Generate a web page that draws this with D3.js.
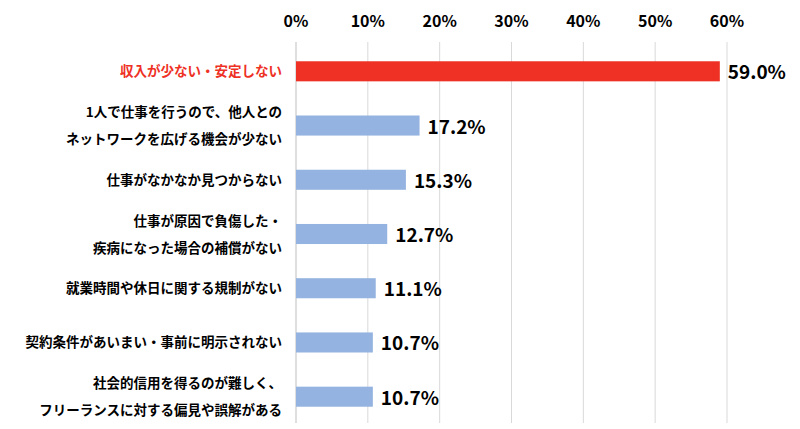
<!DOCTYPE html>
<html><head><meta charset="utf-8">
<script src="https://cdn.jsdelivr.net/npm/d3@7"></script>
<style>body{margin:0;background:#fff}</style>
</head><body><svg id="c" width="800" height="429"></svg>
<script>
const categories = [
  ["収入が少ない・安定しない"],
  ["1人で仕事を行うので、他人との","ネットワークを広げる機会が少ない"],
  ["仕事がなかなか見つからない"],
  ["仕事が原因で負傷した・","疾病になった場合の補償がない"],
  ["就業時間や休日に関する規制がない"],
  ["契約条件があいまい・事前に明示されない"],
  ["社会的信用を得るのが難しく、","フリーランスに対する偏見や誤解がある"]
];
const values = [59.0, 17.2, 15.3, 12.7, 11.1, 10.7, 10.7];
const ticks = [0,10,20,30,40,50,60];
const font = "'Noto Sans CJK JP', sans-serif";
const svg = d3.select("#c");
const x = d3.scaleLinear().domain([0,60]).range([296,727]);
const y = d3.scaleBand().domain(d3.range(values.length)).range([45,423]).paddingInner(0.63).paddingOuter(0.3);
svg.append("g").selectAll("line").data(ticks).join("line")
  .attr("x1",d=>x(d)).attr("x2",d=>x(d)).attr("y1",42).attr("y2",423)
  .attr("stroke",d=>d===0?"#bfbfbf":"#d9d9d9").attr("stroke-width",1);
svg.append("g").selectAll("text").data(ticks).join("text")
  .attr("x",d=>x(d)).attr("y",27).attr("text-anchor","middle")
  .attr("font-family",font).attr("font-weight","bold").attr("font-size",16).attr("fill","#000")
  .text(d=>d+"%");
svg.append("g").selectAll("rect").data(values).join("rect")
  .attr("x",x(0)).attr("y",(d,i)=>y(i)).attr("width",d=>x(d)-x(0)).attr("height",y.bandwidth())
  .attr("fill",(d,i)=>i===0?"#ee3124":"#95b3e0");
svg.append("g").selectAll("text").data(values).join("text")
  .attr("x",d=>x(d)+8).attr("y",(d,i)=>y(i)+y.bandwidth()/2+8)
  .attr("font-family",font).attr("font-weight","bold").attr("font-size",19).attr("fill","#000")
  .text(d=>d.toFixed(1)+"%");
const lg = svg.append("g").selectAll("text").data(categories).join("text")
  .attr("text-anchor","end").attr("font-family",font).attr("font-weight","bold").attr("font-size",13.5)
  .attr("fill",(d,i)=>i===0?"#ee3124":"#000");
lg.each(function(d,i){
  const cy = y(i)+y.bandwidth()/2;
  const n = d.length;
  d3.select(this).selectAll("tspan").data(d).join("tspan")
    .attr("x",282).attr("y",(t,j)=>cy+5+(j-(n-1)/2)*27).text(t=>t);
});
</script></body></html>
